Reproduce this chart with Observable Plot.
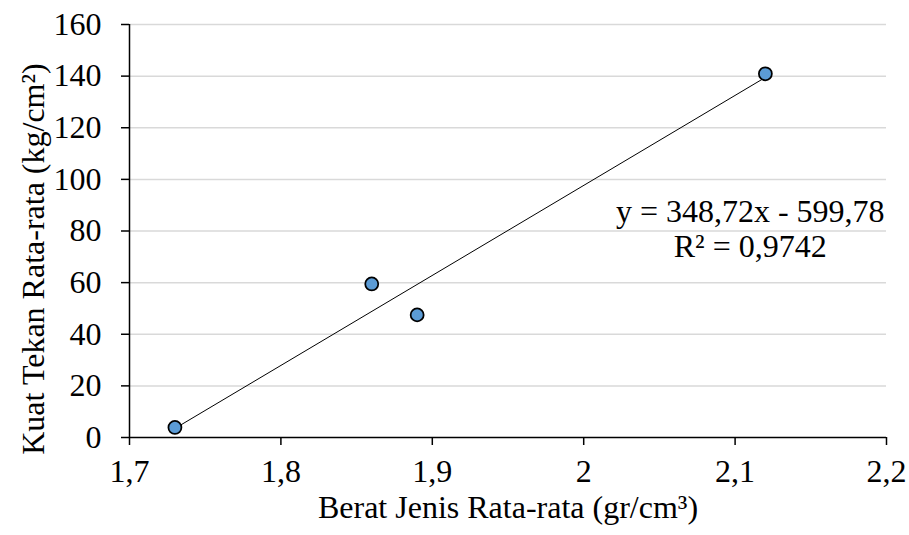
<!DOCTYPE html>
<html>
<head>
<meta charset="utf-8">
<script src="https://cdn.jsdelivr.net/npm/d3@7"></script>
<script src="https://cdn.jsdelivr.net/npm/@observablehq/plot@0.6"></script>
<style>
  html, body { margin: 0; padding: 0; background: #fff; }
  svg { display: block; }
  #chart svg, #chart svg text { font-family: "Liberation Serif", "Times New Roman", serif !important; }
</style>
</head>
<body>
<div id="chart"></div>
<script>
// Data
const beratJenis = [1.73, 1.86, 1.89, 2.12];     // gr/cm3
const kuatTekan  = [3.9, 59.5, 47.5, 140.9];     // kg/cm2
const trendSlope = 348.72;
const trendIntercept = -599.78;
const xTicks = [1.7, 1.8, 1.9, 2.0, 2.1, 2.2];
const yTicks = [0, 20, 40, 60, 80, 100, 120, 140, 160];
const equationText = "y = 348,72x - 599,78";
const r2Text = "R² = 0,9742";
const xTitle = "Berat Jenis Rata-rata (gr/cm³)";
const yTitle = "Kuat Tekan Rata-rata (kg/cm²)";

const points = beratJenis.map((x, i) => ({x, y: kuatTekan[i]}));
const xMin = d3.min(beratJenis), xMax = d3.max(beratJenis);
const trend = [xMin, xMax].map(x => ({x, y: trendSlope * x + trendIntercept}));

const font = "Liberation Serif";
const fs = 32;
const fmtX = d => String(+d.toFixed(1)).replace(".", ",");

const chart = Plot.plot({
  width: 909,
  height: 535,
  marginLeft: 129,
  marginRight: 23,
  marginTop: 24,
  marginBottom: 98,
  style: {fontFamily: font, fontSize: fs + "px", color: "#000", background: "#fff"},
  x: {domain: [1.7, 2.2], ticks: xTicks, tickFormat: fmtX},
  y: {domain: [0, 160], ticks: yTicks},
  marks: [
    Plot.gridY(yTicks.filter(d => d > 0), {stroke: "#d9d9d9", strokeOpacity: 1, strokeWidth: 1.5}),
    Plot.axisX({ticks: xTicks, tickFormat: fmtX, tickSize: 8, tickPadding: 14, label: null, fontSize: fs, fontFamily: font, strokeWidth: 1.5}),
    Plot.axisY({ticks: yTicks, tickSize: 8, tickPadding: 20, label: null, fontSize: fs, fontFamily: font, strokeWidth: 1.5}),
    Plot.ruleY([0], {stroke: "#000", strokeWidth: 1.5}),
    Plot.ruleX([1.7], {stroke: "#000", strokeWidth: 1.5}),
    Plot.line(trend, {x: "x", y: "y", stroke: "#000", strokeWidth: 1}),
    Plot.dot(points, {x: "x", y: "y", r: 6.5, fill: "#5b9bd5", stroke: "#000", strokeWidth: 1.75}),
    Plot.text([equationText], {x: 2.11, y: 83.4, text: d => d, lineAnchor: "bottom", textAnchor: "middle", fontSize: fs, fontFamily: font, fill: "#000"}),
    Plot.text([r2Text], {x: 2.11, y: 70, text: d => d, lineAnchor: "bottom", textAnchor: "middle", fontSize: fs, fontFamily: font, fill: "#000"}),
    Plot.text([xTitle], {frameAnchor: "bottom", text: d => d, dy: 80, lineAnchor: "bottom", textAnchor: "middle", fontSize: fs, fontFamily: font, fill: "#000"}),
    Plot.text([yTitle], {frameAnchor: "left", text: d => d, rotate: -90, dx: -96, dy: 28, textAnchor: "middle", fontSize: fs, fontFamily: font, fill: "#000"})
  ]
});
document.getElementById("chart").appendChild(chart);
</script>
</body>
</html>
